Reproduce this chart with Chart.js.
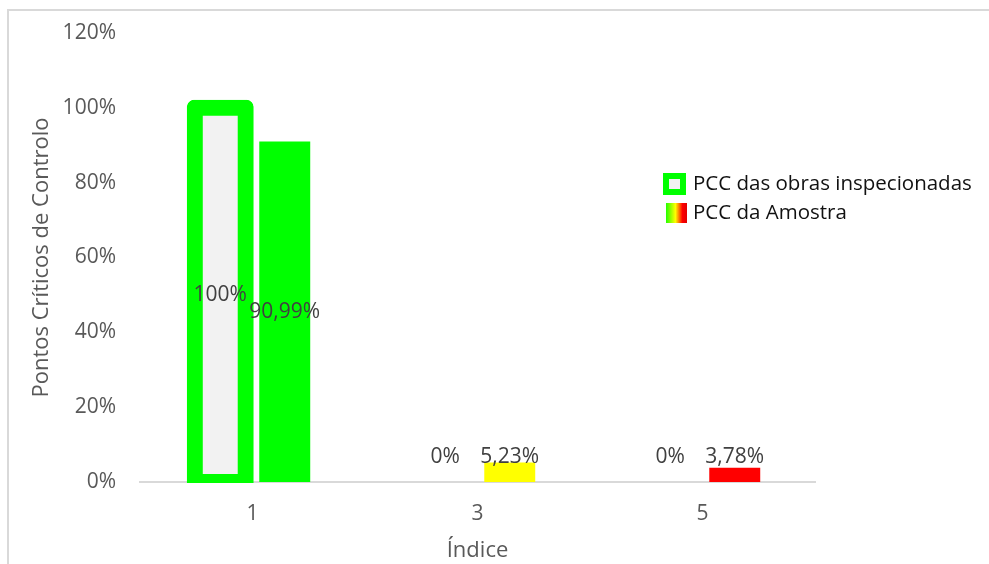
<!DOCTYPE html>
<html>
<head>
<meta charset="utf-8">
<script src="https://cdn.jsdelivr.net/npm/chart.js@4/dist/chart.umd.min.js"></script>
<style>
  html, body { margin: 0; padding: 0; background: #fff; overflow: hidden; }
  #wrap { position: relative; width: 989px; height: 564px; }
  #frame { position: absolute; left: 7px; top: 9px; width: 1200px; height: 900px;
           border-left: 2px solid #d9d9d9; border-top: 2px solid #d9d9d9; box-sizing: border-box; }
  #c { position: absolute; left: 0; top: 0; }
</style>
</head>
<body>
<div id="wrap">
  <div id="frame"></div>
  <canvas id="c" width="989" height="564"></canvas>
</div>
<script>
// Índice categories and percentages of critical control points
const categories = ['1', '3', '5'];
const inspecionadas = [100, 0, 0];
const amostra = [90.99, 5.23, 3.78];
const amostraColors = ['#00ff00', '#ffff00', '#ff0000'];
const yTicks = [0, 20, 40, 60, 80, 100, 120];
const seriesNames = ['PCC das obras inspecionadas', 'PCC da Amostra'];

const FONT = 'Open Sans';
const tickColor = '#595959';

function pct(v) {
  return Number.isInteger(v) ? v + '%' : v.toFixed(2).replace('.', ',') + '%';
}

// value labels inside (or just above short) bars
const valueLabels = {
  id: 'valueLabels',
  afterDatasetsDraw(chart) {
    const ctx = chart.ctx;
    ctx.save();
    ctx.font = '21px "' + FONT + '"';
    ctx.fillStyle = '#404040';
    ctx.textAlign = 'center';
    ctx.textBaseline = 'middle';
    chart.data.datasets.forEach((ds, di) => {
      chart.getDatasetMeta(di).data.forEach((el, i) => {
        const y = Math.min((el.y + el.base) / 2, el.base - 25);
        ctx.fillText(pct(ds.data[i]), el.x, y);
      });
    });
    ctx.restore();
  }
};

// legend placed inside the plot, right side
const sideLegend = {
  id: 'sideLegend',
  afterDraw(chart) {
    const ctx = chart.ctx;
    ctx.save();
    // first marker: green outline box
    ctx.fillStyle = '#00ff00';
    ctx.fillRect(663, 173, 23, 22);
    ctx.fillStyle = '#f2f2f2';
    ctx.fillRect(669, 179, 11, 10);
    // second marker: green-yellow-red gradient
    const g = ctx.createLinearGradient(666, 0, 687, 0);
    g.addColorStop(0, '#22ff00');
    g.addColorStop(0.45, '#ffff00');
    g.addColorStop(0.78, '#ff0000');
    g.addColorStop(1, '#e00000');
    ctx.fillStyle = g;
    ctx.fillRect(666, 203, 21, 20);
    ctx.font = '20.5px "' + FONT + '"';
    ctx.fillStyle = '#111111';
    ctx.textAlign = 'left';
    ctx.textBaseline = 'middle';
    ctx.fillText(chart.data.datasets[0].label, 693, 184);
    ctx.fillText(chart.data.datasets[1].label, 693, 213);
    ctx.restore();
  }
};

const catPct = 0.5733;
const barPct = 0.79;

new Chart(document.getElementById('c'), {
  type: 'bar',
  data: {
    labels: categories,
    datasets: [
      {
        label: seriesNames[0],
        data: inspecionadas,
        backgroundColor: '#f2f2f2',
        borderColor: '#00ff00',
        borderWidth: c => (c.raw > 0 ? 16 : 0),
        inflateAmount: c => (c.raw > 0 ? 8 : 0),
        borderSkipped: false,
        borderRadius: { topLeft: 7, topRight: 7, bottomLeft: 0, bottomRight: 0 },
        clip: { left: false, top: false, right: false, bottom: 1 },
        categoryPercentage: catPct,
        barPercentage: barPct
      },
      {
        label: seriesNames[1],
        data: amostra,
        backgroundColor: amostraColors,
        borderWidth: 0,
        inflateAmount: 0,
        categoryPercentage: catPct,
        barPercentage: barPct
      }
    ]
  },
  options: {
    responsive: false,
    animation: false,
    devicePixelRatio: 1,
    layout: { padding: { left: 0, top: 33, right: 174, bottom: 0 } },
    plugins: {
      legend: { display: false },
      tooltip: { enabled: false }
    },
    scales: {
      x: {
        grid: { display: false, drawTicks: false },
        border: { display: true, color: '#d9d9d9', width: 2 },
        ticks: { color: tickColor, font: { family: FONT, size: 21 }, padding: 19 },
        title: {
          display: true, text: 'Índice', color: tickColor,
          font: { family: FONT, size: 22 }, padding: { top: 0, bottom: 0 }
        },
        afterFit: s => { s.height = 82; }
      },
      y: {
        min: 0,
        max: 120,
        afterBuildTicks: s => { s.ticks = yTicks.map(v => ({ value: v })); },
        ticks: {
          color: tickColor, font: { family: FONT, size: 21 }, padding: 24,
          callback: v => v + '%'
        },
        grid: { display: false, drawTicks: false },
        border: { display: false },
        title: {
          display: true, text: 'Pontos Críticos de Controlo', color: tickColor,
          font: { family: FONT, size: 22 }, padding: { top: 29, bottom: 0 }
        },
        afterFit: s => { s.width = 140; s.paddingTop = 12; }
      }
    }
  },
  plugins: [valueLabels, sideLegend]
});
</script>
</body>
</html>
